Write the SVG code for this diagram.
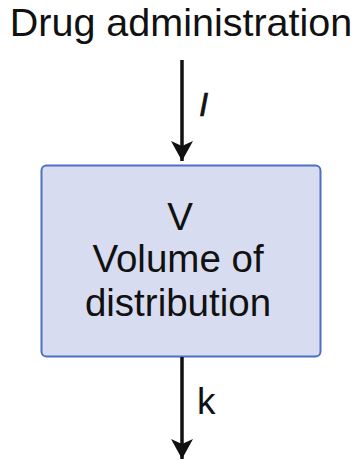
<svg xmlns="http://www.w3.org/2000/svg" width="354" height="460" viewBox="0 0 354 460">
  <defs>
    <marker id="arrow" viewBox="0 0 20 22" refX="20" refY="11" markerWidth="20" markerHeight="22" markerUnits="userSpaceOnUse" orient="auto">
      <path d="M0,0 L20,11 L0,22 L5,11 Z" fill="#111"/>
    </marker>
  </defs>
  <style>
    text { font-family: "Liberation Sans", Arial, sans-serif; fill: #111; }
    .lbl { font-size: 38.5px; text-anchor: middle; }
    .edge { stroke: #111; stroke-width: 3.5; fill: none; }
  </style>
  <rect width="354" height="460" fill="#fff"/>

  <g id="source">
    <text class="lbl" x="181" y="36" style="font-size:39.5px">Drug administration</text>
  </g>

  <g id="compartment">
    <rect x="41.5" y="165.5" width="279" height="191" rx="5" fill="#d8dcf0" stroke="#4d71c2" stroke-width="2"/>
    <text class="lbl" x="180" y="230">V</text>
    <text class="lbl" x="178" y="272">Volume of</text>
    <text class="lbl" x="178" y="316">distribution</text>
  </g>

  <g id="connectors">
    <line class="edge" x1="182" y1="60" x2="182" y2="161" marker-end="url(#arrow)"/>
    <text x="199" y="116" font-size="33" font-style="italic" stroke="#111" stroke-width="0.6">I</text>
    <line class="edge" x1="182" y1="357" x2="182" y2="459" marker-end="url(#arrow)"/>
    <text x="197" y="414" font-size="37">k</text>
  </g>
</svg>
